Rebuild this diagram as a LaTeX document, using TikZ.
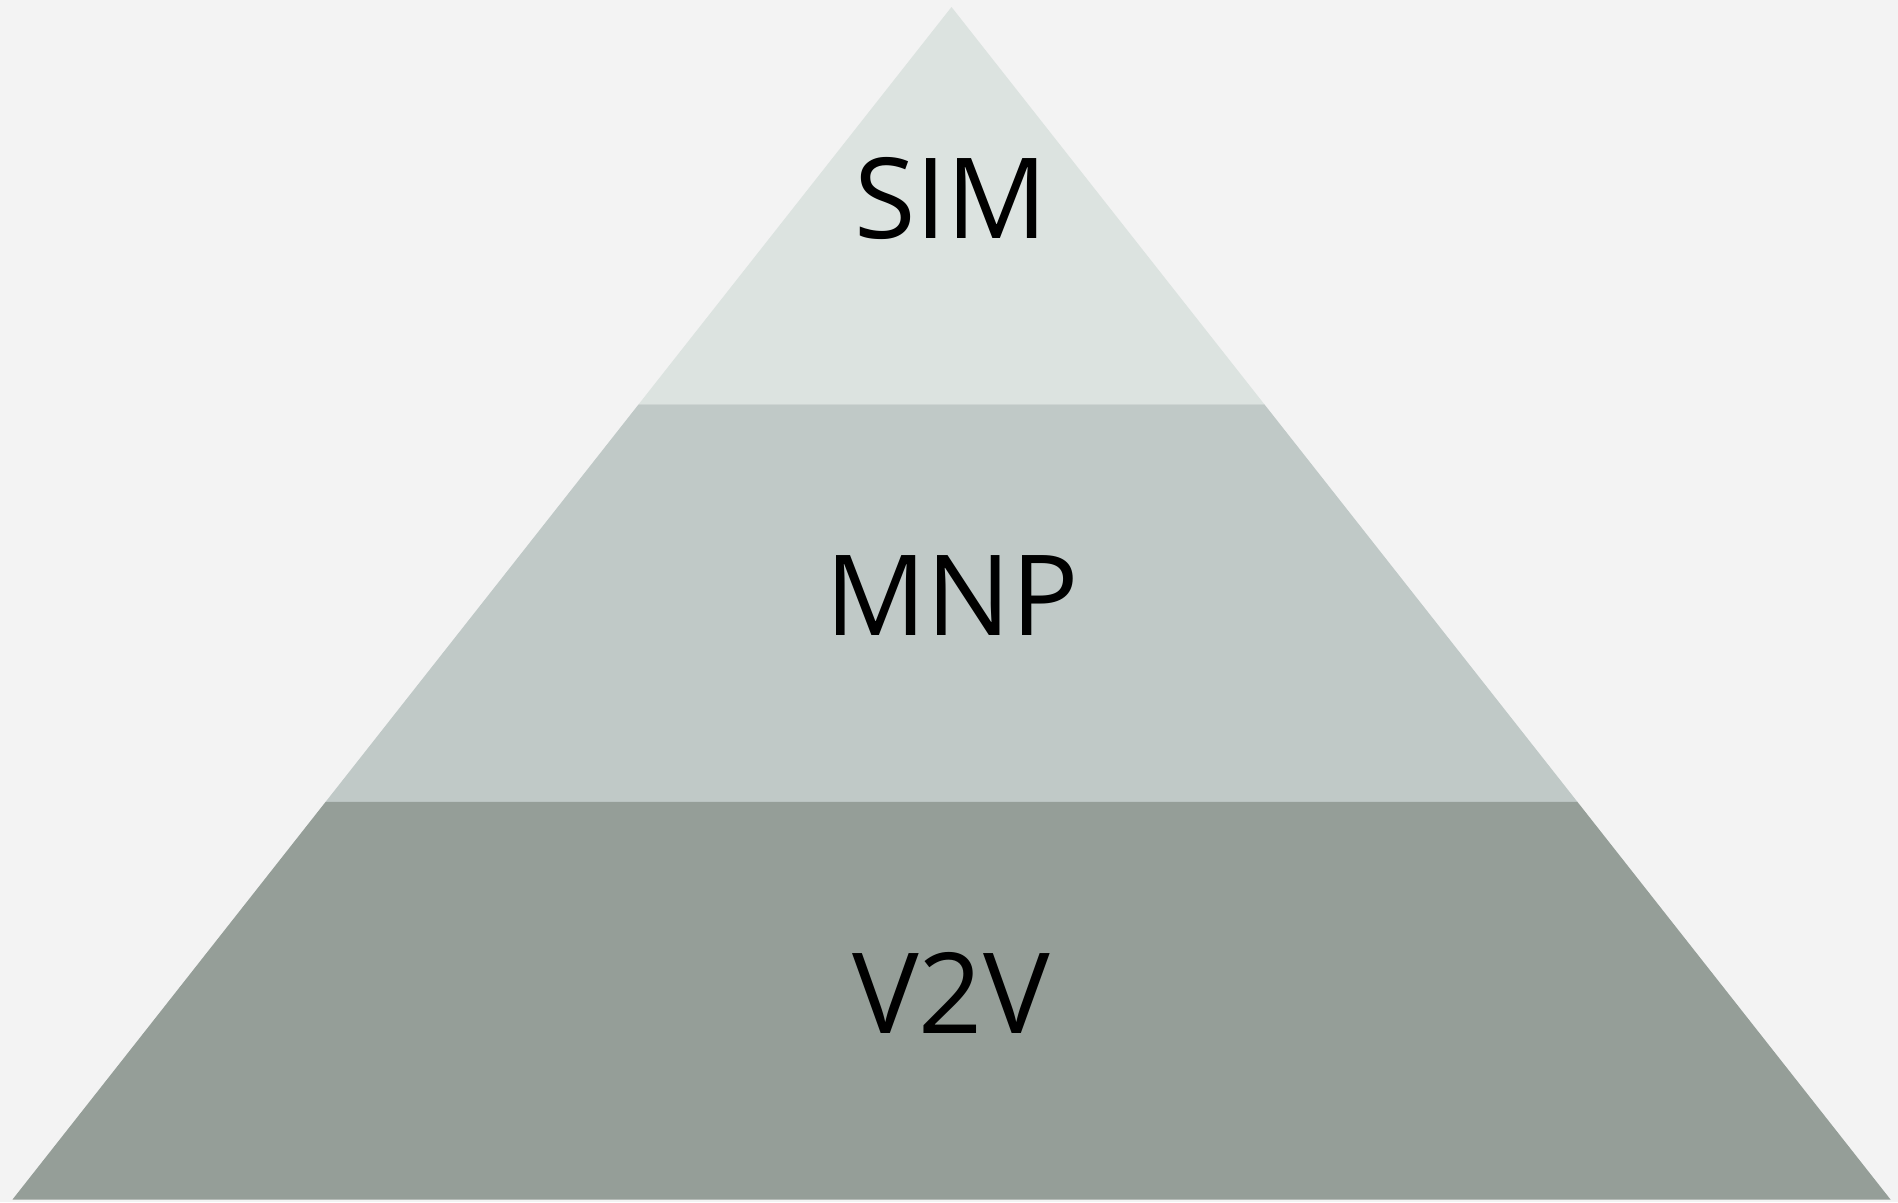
\documentclass[tikz,border=0pt]{standalone}
\usepackage{fontspec}
\setmainfont{Open Sans}
\usetikzlibrary{calc}
\definecolor{backgray}{HTML}{F3F3F3}
\definecolor{tiertop}{HTML}{DCE3E0}
\definecolor{tiermid}{HTML}{C0C9C7}
\definecolor{tierlow}{HTML}{959E98}
\begin{document}
\begin{tikzpicture}[x=1pt, y=-1pt, tier/.style={draw=none}, label/.style={font=\fontsize{112}{120}\selectfont, text=black, inner sep=0pt}]
		\fill[backgray] (0,0) rectangle (1898,1202);
		\coordinate (top) at (951.5,7);
		\coordinate (bl) at (12.5,1199.5);
		\coordinate (br) at (1890.5,1199.5);
		\coordinate (l1) at ($(top)!1/3!(bl)$);
		\coordinate (r1) at ($(top)!1/3!(br)$);
		\coordinate (l2) at ($(top)!2/3!(bl)$);
		\coordinate (r2) at ($(top)!2/3!(br)$);
		\fill[tier, tiertop] (top) -- (r1) -- (l1) -- cycle;
		\fill[tier, tiermid] (l1) -- (r1) -- (r2) -- (l2) -- cycle;
		\fill[tier, tierlow] (l2) -- (r2) -- (br) -- (bl) -- cycle;
		\node[label] (sim) at (951,198) {SIM};
		\node[label] (mnp) at (952,596) {MNP};
		\node[label] (v2v) at (951,993) {V2V};
	\end{tikzpicture}
\end{document}
